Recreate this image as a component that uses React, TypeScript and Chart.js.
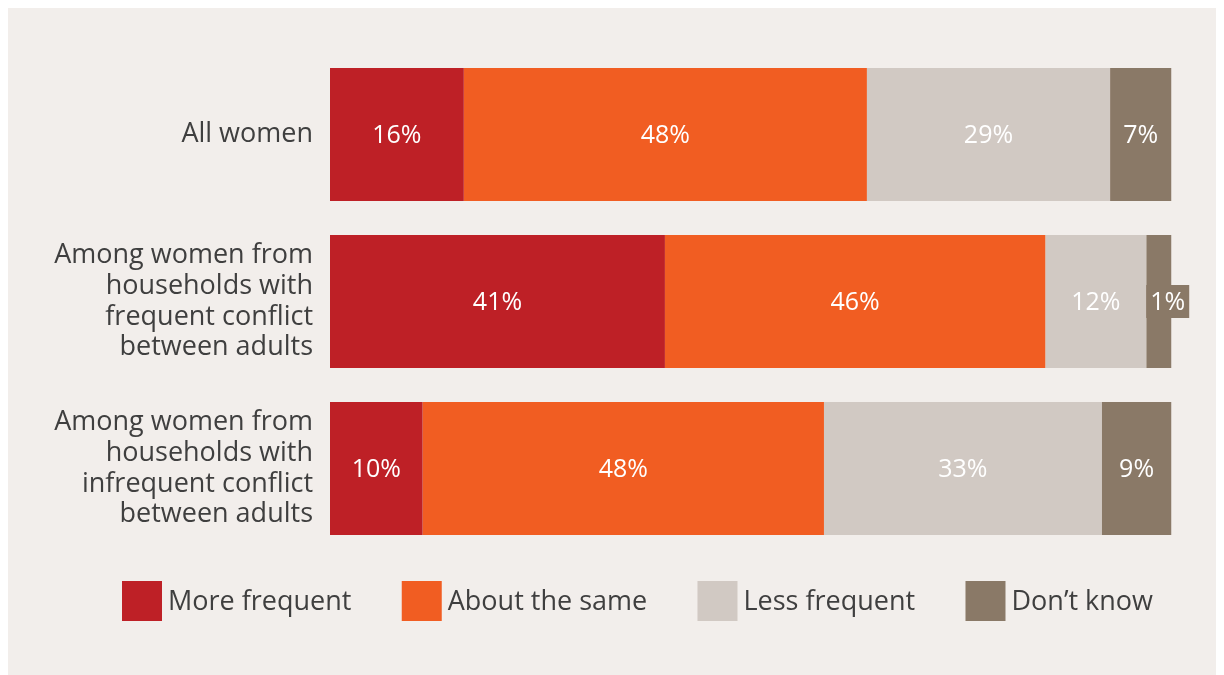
import React, { useEffect, useRef } from "react";
import { Chart, registerables } from "chart.js";

Chart.register(...registerables);

const categories: string[][] = [
  ["All women"],
  ["Among women from", "households with", "frequent conflict", "between adults"],
  ["Among women from", "households with", "infrequent conflict", "between adults"],
];

const seriesNames = ["More frequent", "About the same", "Less frequent", "Don\u2019t know"];

// bar lengths (percent of the full bar)
const moreFrequent = [15.9, 39.8, 11.0];
const aboutTheSame = [47.9, 45.2, 47.7];
const lessFrequent = [28.9, 12.0, 33.0];
const dontKnow = [7.3, 3.0, 8.3];

// printed labels
const moreFrequentLabels = ["16%", "41%", "10%"];
const aboutTheSameLabels = ["48%", "46%", "48%"];
const lessFrequentLabels = ["29%", "12%", "33%"];
const dontKnowLabels = ["7%", "1%", "9%"];

const seriesColors = ["#be2026", "#f15d22", "#d1c9c3", "#8a7967"];

const FONT = "'Open Sans', 'Noto Sans', sans-serif";
const TEXT_COLOR = "#3f3f3f";
const BG = "#f2eeeb";

const valueLabelPlugin = {
  id: "valueLabels",
  afterDatasetsDraw(chart: any) {
    const ctx = chart.ctx;
    ctx.save();
    ctx.font = `400 25px ${FONT}`;
    ctx.textBaseline = "middle";
    chart.data.datasets.forEach((ds: any, di: number) => {
      const meta = chart.getDatasetMeta(di);
      meta.data.forEach((el: any, i: number) => {
        const label = ds.valueLabels[i];
        const start = Math.min(el.base, el.x);
        const end = Math.max(el.base, el.x);
        const w = ctx.measureText(label).width;
        if (end - start < w + 12) {
          const bw = w + 8;
          const bh = 33;
          ctx.fillStyle = ds.backgroundColor;
          ctx.fillRect(start, el.y - bh / 2, bw, bh);
          ctx.fillStyle = "#ffffff";
          ctx.textAlign = "center";
          ctx.fillText(label, start + bw / 2, el.y + 1);
        } else {
          ctx.fillStyle = "#ffffff";
          ctx.textAlign = "center";
          ctx.fillText(label, (start + end) / 2, el.y + 1);
        }
      });
    });
    ctx.restore();
  },
};

const legendPlugin = {
  id: "customLegend",
  afterDraw(chart: any, _args: any, opts: any) {
    const ctx = chart.ctx;
    const left = opts.left;
    const right = opts.right;
    const top = opts.top;
    const box = opts.box;
    const gapText = opts.gapText;
    ctx.save();
    ctx.font = `400 27px ${FONT}`;
    ctx.textBaseline = "middle";
    ctx.textAlign = "left";
    const items = chart.data.datasets.map((ds: any) => ({
      label: ds.label,
      color: ds.backgroundColor,
      w: box + gapText + ctx.measureText(ds.label).width,
    }));
    const total = items.reduce((s: number, it: any) => s + it.w, 0);
    const gap = (right - left - total) / (items.length - 1);
    let x = left;
    items.forEach((it: any) => {
      ctx.fillStyle = it.color;
      ctx.fillRect(x, top, box, box);
      ctx.fillStyle = TEXT_COLOR;
      ctx.fillText(it.label, x + box + gapText, top + box / 2 + 1);
      x += it.w + gap;
    });
    ctx.restore();
  },
};

export default function App() {
  const canvasRef = useRef<HTMLCanvasElement | null>(null);

  useEffect(() => {
    if (!canvasRef.current) return;
    const values = [moreFrequent, aboutTheSame, lessFrequent, dontKnow];
    const labels = [moreFrequentLabels, aboutTheSameLabels, lessFrequentLabels, dontKnowLabels];
    const chart = new Chart(canvasRef.current, {
      type: "bar",
      data: {
        labels: categories,
        datasets: seriesNames.map((name, i) => ({
          label: name,
          data: values[i],
          backgroundColor: seriesColors[i],
          borderWidth: 0,
          barPercentage: 0.796,
          categoryPercentage: 1,
          valueLabels: labels[i],
        })) as any,
      },
      options: {
        indexAxis: "y",
        animation: false,
        responsive: false,
        maintainAspectRatio: false,
        layout: { padding: { top: 43, bottom: 123, right: 52.5, left: 0 } },
        scales: {
          x: { stacked: true, min: 0, max: 100, display: false },
          y: {
            stacked: true,
            grid: { display: false, drawTicks: false },
            border: { display: false },
            ticks: {
              padding: 17,
              color: TEXT_COLOR,
              font: { family: FONT, size: 27, lineHeight: 30.7 / 27 },
            },
            afterFit: (scale: any) => {
              scale.width = 322;
              scale.paddingTop = 0;
              scale.paddingBottom = 0;
            },
          },
        },
        plugins: {
          legend: { display: false },
          tooltip: { enabled: false },
          customLegend: { left: 114, right: 1145, top: 573, box: 40, gapText: 6 },
        } as any,
      },
      plugins: [valueLabelPlugin, legendPlugin],
    });
    return () => chart.destroy();
  }, []);

  return (
    <div style={{ width: 1216, height: 667, background: BG }}>
      <canvas ref={canvasRef} width={1216} height={667} style={{ display: "block" }} />
    </div>
  );
}
